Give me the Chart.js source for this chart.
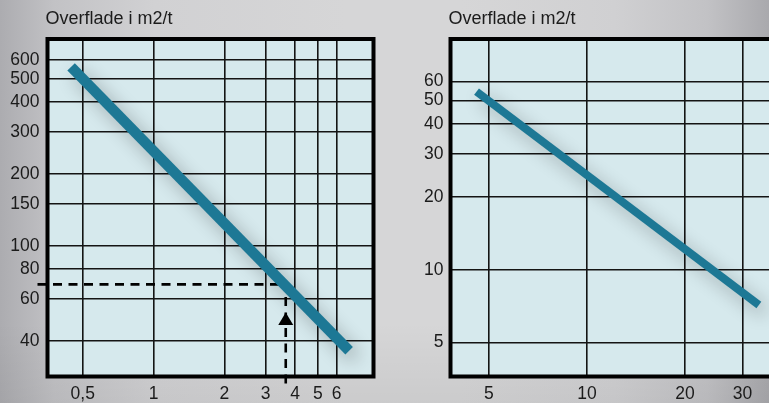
<!DOCTYPE html>
<html>
<head>
<meta charset="utf-8">
<script src="https://cdn.jsdelivr.net/npm/chart.js@4.4.1/dist/chart.umd.min.js"></script>
<style>
  html, body { margin: 0; padding: 0; }
  body {
    width: 769px; height: 403px; overflow: hidden; position: relative;
    background:
      linear-gradient(180deg, rgba(255,255,255,0) 0%, rgba(255,255,255,0) 80%, rgba(0,0,0,0.05) 100%),
      linear-gradient(90deg, #acacb0 0%, #c2c2c5 7%, #d1d1d3 20%, #d6d6d7 45%, #d6d6d7 60%, #d0d0d2 80%, #c2c2c5 92%, #a9a9ad 100%);
  }
  canvas { position: absolute; left: 0; top: 0; }
</style>
</head>
<body>
<canvas id="chartLeft" width="769" height="403"></canvas>
<canvas id="chartRight" width="769" height="403"></canvas>
<script>
// Common title over both diagrams
const titleText = 'Overflade i m2/t';

// Left diagram: capacity (x) against surface in m2/t (y)
const leftXTicks = [0.5, 1, 2, 3, 4, 5, 6];
const leftYTicks = [40, 60, 80, 100, 150, 200, 300, 400, 500, 600];
const leftLineX = [0.446, 6.79];
const leftLineY = [561, 36.4];
// reading example drawn with dashed guides
const guideX = 3.65;
const guideY = 69;

// Right diagram
const rightXTicks = [5, 10, 20, 30];
const rightYTicks = [5, 10, 20, 30, 40, 50, 60];
const rightLineX = [4.58, 33.7];
const rightLineY = [54.4, 7.15];

const FONT = '"Liberation Sans", Arial, Helvetica, sans-serif';
const TEXT = '#1b1b1b';
const PLOT_BG = '#d6e9ed';
const LINE_COLOR = '#1d7895';

const fmt = v => String(v).replace('.', ',');

function logAxis(ticks, min, max, pad, extra) {
  return Object.assign({
    type: 'logarithmic',
    min: min,
    max: max,
    afterBuildTicks: s => { s.ticks = ticks.map(v => ({ value: v })); },
    grid: { color: '#141414', lineWidth: 1.6, drawTicks: false },
    border: { display: false },
    ticks: {
      autoSkip: false, maxRotation: 0, minRotation: 0,
      padding: pad,
      color: TEXT,
      font: { family: FONT, size: 17.5 },
      callback: v => fmt(v)
    }
  }, extra);
}

function diagramPlugin(opts) {
  return {
    id: 'diagram',
    beforeDraw(chart) {
      const { ctx, chartArea: a } = chart;
      ctx.save();
      ctx.fillStyle = PLOT_BG;
      ctx.fillRect(a.left, a.top, a.right - a.left, a.bottom - a.top);
      ctx.restore();
    },
    beforeDatasetsDraw(chart) {
      const { ctx } = chart;
      if (opts.guide) opts.guide(chart);
      ctx.save();
      ctx.shadowColor = 'rgba(0,0,0,0.30)';
      ctx.shadowBlur = 18;
      ctx.shadowOffsetX = 6;
      ctx.shadowOffsetY = 7;
    },
    afterDatasetsDraw(chart) {
      const { ctx, chartArea: a } = chart;
      ctx.restore();
      // heavy frame round the plot area
      ctx.save();
      ctx.strokeStyle = '#000';
      ctx.lineWidth = 4;
      ctx.lineCap = 'square';
      ctx.beginPath();
      if (opts.closed) {
        ctx.rect(a.left, a.top, a.right - a.left, a.bottom - a.top);
      } else {
        ctx.moveTo(a.right + 10, a.top);
        ctx.lineTo(a.left, a.top);
        ctx.lineTo(a.left, a.bottom);
        ctx.lineTo(a.right + 10, a.bottom);
      }
      ctx.stroke();
      ctx.restore();
    },
    afterDraw(chart) {
      const { ctx, chartArea: a } = chart;
      ctx.save();
      ctx.fillStyle = TEXT;
      ctx.font = '18px ' + FONT;
      ctx.textBaseline = 'middle';
      ctx.textAlign = 'left';
      ctx.fillText(titleText, a.left - 2, 19);
      ctx.restore();
    }
  };
}

// dashed reading guide with arrow on the left diagram
function drawGuide(chart) {
  const { ctx, chartArea: a, scales } = chart;
  const px = scales.x.getPixelForValue(guideX);
  const py = scales.y.getPixelForValue(guideY);
  ctx.save();
  ctx.strokeStyle = '#000';
  ctx.lineWidth = 2.6;
  ctx.setLineDash([9, 6.5]);
  ctx.beginPath();
  ctx.moveTo(a.left - 10, py);
  ctx.lineTo(px, py);
  ctx.stroke();
  ctx.beginPath();
  ctx.moveTo(px, a.bottom + 7);
  ctx.lineTo(px, py);
  ctx.stroke();
  ctx.setLineDash([]);
  // arrow head pointing up
  const tip = a.bottom - 64;
  ctx.fillStyle = '#000';
  ctx.beginPath();
  ctx.moveTo(px, tip);
  ctx.lineTo(px + 7.5, tip + 12.5);
  ctx.lineTo(px - 7.5, tip + 12.5);
  ctx.closePath();
  ctx.fill();
  ctx.restore();
}

function lineDataset(xs, ys, width) {
  return {
    data: xs.map((x, i) => ({ x: x, y: ys[i] })),
    borderColor: LINE_COLOR,
    borderWidth: width,
    borderCapStyle: 'butt',
    pointRadius: 0,
    tension: 0,
    fill: false
  };
}

const common = {
  responsive: false,
  animation: false,
  events: [],
  plugins: { legend: { display: false }, tooltip: { enabled: false } }
};

new Chart(document.getElementById('chartLeft'), {
  type: 'line',
  data: { datasets: [lineDataset(leftLineX, leftLineY, 10.5)] },
  options: Object.assign({}, common, {
    layout: { padding: { left: 0, top: 39, right: 395.5, bottom: 0 } },
    scales: {
      x: logAxis(leftXTicks, 0.354, 8.62, 7, { afterFit: s => { s.height = 26.5; } }),
      y: logAxis(leftYTicks, 28.4, 734, 8, { afterFit: s => { s.width = 47.5; } })
    }
  }),
  plugins: [diagramPlugin({ closed: true, guide: drawGuide })]
});

new Chart(document.getElementById('chartRight'), {
  type: 'line',
  data: { datasets: [lineDataset(rightLineX, rightLineY, 8)] },
  options: Object.assign({}, common, {
    layout: { padding: { left: 400, top: 39, right: 0, bottom: 0 } },
    scales: {
      x: logAxis(rightXTicks, 3.81, 36.2, 7, { afterFit: s => { s.height = 26.5; } }),
      y: logAxis(rightYTicks, 3.62, 89.8, 7, { afterFit: s => { s.width = 50.5; } })
    }
  }),
  plugins: [diagramPlugin({ closed: false })]
});
</script>
</body>
</html>
